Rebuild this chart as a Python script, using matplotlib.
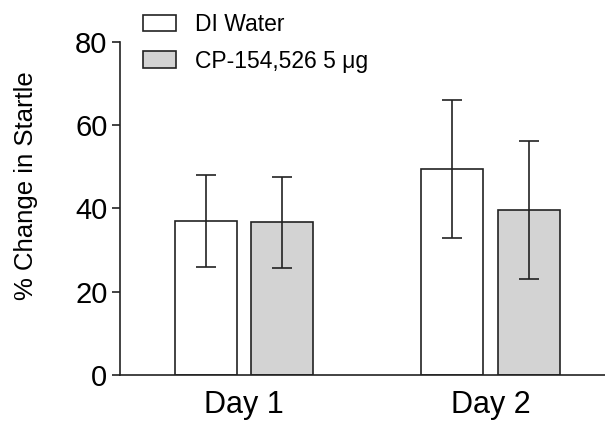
import numpy as np
import matplotlib.pyplot as plt
from matplotlib.patches import Patch

plt.rcParams['font.family'] = ['Liberation Sans', 'DejaVu Sans']

days = ['Day 1', 'Day 2']
groups = ['DI Water', 'CP-154,526 5 \u03bcg']
water_mean = [37.0, 49.4]
water_err = [11.0, 16.5]
cp_mean = [36.6, 39.6]
cp_err = [11.0, 16.6]
colors = ['white', '#d3d3d3']

fig = plt.figure(figsize=(6.05, 4.24), dpi=100)
ax = fig.add_axes([0.1983, 0.1156, 0.8017, 0.7861])

x = np.arange(len(days))
w = 0.251
off = 0.1545
ekw = dict(ecolor='#222222', elinewidth=1.2, capsize=7, capthick=1.2)
ax.bar(x - off, water_mean, w, yerr=water_err, color=colors[0],
       edgecolor='#222222', linewidth=1.2, error_kw=ekw, zorder=2)
ax.bar(x + off, cp_mean, w, yerr=cp_err, color=colors[1],
       edgecolor='#222222', linewidth=1.2, error_kw=ekw, zorder=2)

ax.set_xlim(-0.502, 1.464)
ax.set_ylim(0, 80)
ax.set_yticks([0, 20, 40, 60, 80])
ax.set_xticks(x)
ax.set_xticklabels(days)
ax.tick_params(axis='y', labelsize=21, length=6, width=1.2, color='#222222', pad=3)
ax.tick_params(axis='x', labelsize=22, length=0, pad=10.5)

for s in ['top', 'right']:
    ax.spines[s].set_visible(False)
for s in ['left', 'bottom']:
    ax.spines[s].set_linewidth(1.2)
    ax.spines[s].set_color('#222222')

fig.text(26 / 605, 1 - 186 / 424, '% Change in Startle', rotation=90,
         ha='center', va='center', fontsize=18.5)

handles = [Patch(facecolor=c, edgecolor='#222222', linewidth=1.2) for c in colors]
fig.legend(handles, groups, loc='upper left', bbox_to_anchor=(143 / 605, 1 - 13 / 424),
           frameon=False, fontsize=16.5, handlelength=1.45, handleheight=0.75,
           handletextpad=0.8, labelspacing=0.6, borderpad=0, borderaxespad=0)

fig.savefig('out.png', dpi=100)
